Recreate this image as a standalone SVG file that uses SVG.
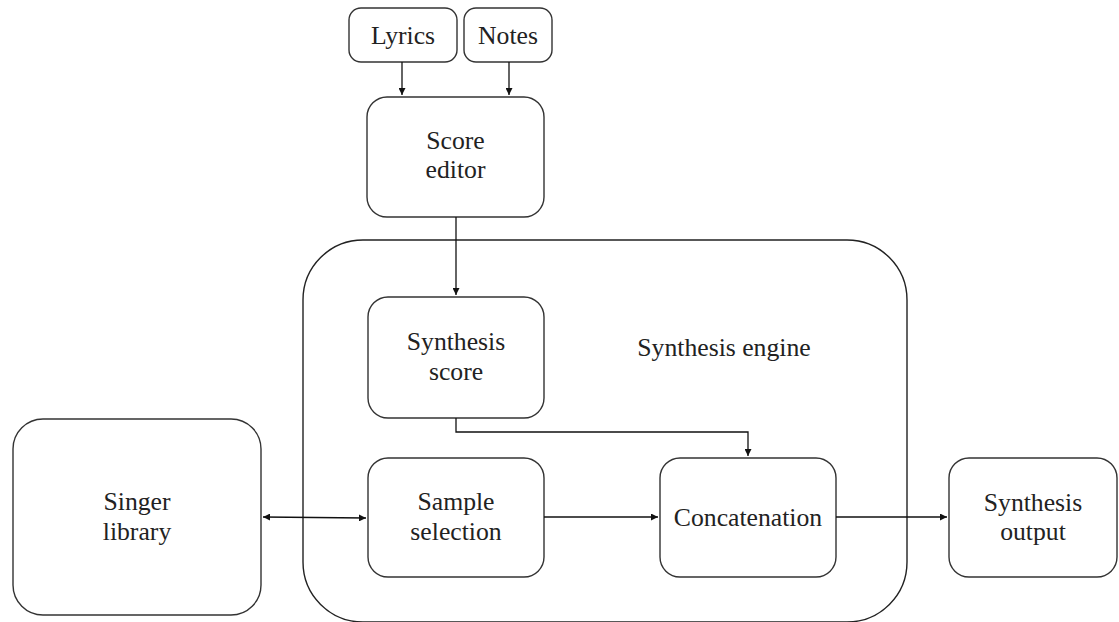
<svg xmlns="http://www.w3.org/2000/svg" width="1119" height="622" viewBox="0 0 1119 622">
<style>
.box{fill:#fff;stroke:#333;stroke-width:1.4}
.cont{fill:none;stroke:#222;stroke-width:1.4}
text{font-family:'Liberation Serif','Times New Roman',Times,serif;font-size:25.7px;fill:#222;text-anchor:middle}
.ln{fill:none;stroke:#111;stroke-width:1.3}
</style>
<defs>
<marker id="ah" viewBox="0 0 10 10" refX="10" refY="5" markerWidth="7" markerHeight="7" markerUnits="userSpaceOnUse" orient="auto-start-reverse">
<path d="M0,0 L10,5 L0,10 z" fill="#111"/>
</marker>
</defs>
<rect width="1119" height="622" fill="#fff"/>
<g id="engine">
<rect class="cont" x="303" y="240" width="604" height="382" rx="60" ry="60"/>
<text x="724" y="356">Synthesis engine</text>
</g>
<g id="lyrics">
<rect class="box" x="349" y="8" width="108" height="54" rx="12"/>
<text x="403" y="44">Lyrics</text>
</g>
<g id="notes">
<rect class="box" x="464" y="8" width="88" height="54" rx="12"/>
<text x="508" y="44">Notes</text>
</g>
<g id="score-editor">
<rect class="box" x="367" y="97" width="177" height="120" rx="20"/>
<text x="455.5" y="149">Score</text>
<text x="455.5" y="178">editor</text>
</g>
<g id="synthesis-score">
<rect class="box" x="368" y="297" width="176" height="121" rx="20"/>
<text x="456" y="350">Synthesis</text>
<text x="456" y="380">score</text>
</g>
<g id="singer-library">
<rect class="box" x="13" y="419" width="248" height="196" rx="30"/>
<text x="137" y="510">Singer</text>
<text x="137" y="540">library</text>
</g>
<g id="sample-selection">
<rect class="box" x="368" y="458" width="176" height="119" rx="20"/>
<text x="456" y="510">Sample</text>
<text x="456" y="540">selection</text>
</g>
<g id="concatenation">
<rect class="box" x="660" y="458" width="176" height="119" rx="20"/>
<text x="748" y="526">Concatenation</text>
</g>
<g id="synthesis-output">
<rect class="box" x="949" y="458" width="168" height="119" rx="20"/>
<text x="1033" y="511">Synthesis</text>
<text x="1033" y="540">output</text>
</g>
<g id="connectors">
<line class="ln" x1="402" y1="62" x2="402" y2="95" marker-end="url(#ah)"/>
<line class="ln" x1="509" y1="62" x2="509" y2="95" marker-end="url(#ah)"/>
<line class="ln" x1="456" y1="217" x2="456" y2="295" marker-end="url(#ah)"/>
<polyline class="ln" points="456,418 456,432 748,432 748,456" marker-end="url(#ah)"/>
<line class="ln" x1="263" y1="517" x2="366" y2="518" marker-start="url(#ah)" marker-end="url(#ah)"/>
<line class="ln" x1="544" y1="517" x2="658" y2="517" marker-end="url(#ah)"/>
<line class="ln" x1="836" y1="517" x2="947" y2="517" marker-end="url(#ah)"/>
</g>
</svg>
